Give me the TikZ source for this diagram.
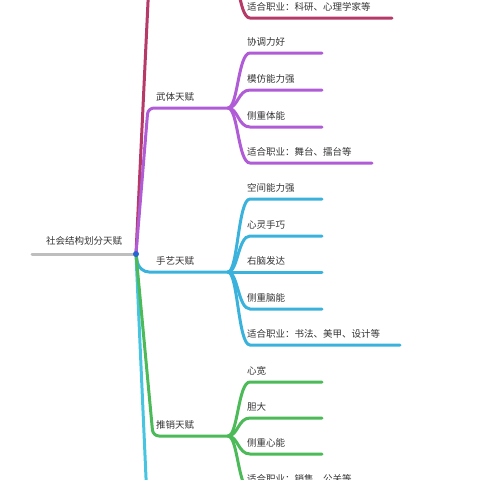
\documentclass[tikz,border=0pt]{standalone}
\usepackage{fontspec}
\setmainfont{Noto Sans CJK SC}
\definecolor{crim}{RGB}{181,58,104}
\definecolor{purp}{RGB}{176,92,214}
\definecolor{sky}{RGB}{58,178,220}
\definecolor{skyb}{RGB}{70,196,224}
\definecolor{leaf}{RGB}{76,186,88}
\definecolor{rootgray}{RGB}{190,190,190}
\definecolor{rootblue}{RGB}{40,100,210}
\definecolor{txtgray}{RGB}{51,51,51}
\begin{document}
\begin{tikzpicture}[x=1pt,y=-1pt,
  lbl/.style={anchor=base west,inner sep=0pt,font=\fontsize{9.5}{11}\selectfont,text=txtgray},
  br/.style={line width=3pt,line cap=round}]
\useasboundingbox (0,0) rectangle (480,480);
\clip (0,0) rectangle (480,480);
% root: gray stem, label above, blue dot at x=136
\coordinate (rootL) at (32,254); \coordinate (root) at (136,254);
\draw[br,rootgray] (rootL) -- (root);
\node[lbl,anchor=base] (rootlbl) at (84,244.5) {社会结构划分天赋};
% branches leaving the root (two run off the page)
\coordinate (zlend) at (150,-40); \coordinate (nextend) at (147,500);
\draw[br,skyb] (root) -- (nextend);
\draw[br,crim] (root) -- (zlend);
% crimson group, hub off the page, last leaf only
\coordinate (zlhub) at (228,-38);
\coordinate (zls4) at (250,18); \coordinate (zle4) at (392,18);
\draw[br,crim] (zlhub) .. controls +(10,0) and +(-12,0) .. (zls4) -- (zle4);
\node[lbl] (zl4) at (247,10.5) {适合职业：科研、心理学家等};
% 武体天赋
\coordinate (wtc) at (148,108); \coordinate (wthub) at (228,108);
\draw[br,purp,rounded corners=6pt] (root) -- (wtc) -- (wthub);
\node[lbl] (wt) at (156,100.5) {武体天赋};
\foreach \i/\y/\t/\e in {1/53/协调力好/322,2/90/模仿能力强/322,3/127/侧重体能/322,4/163/适合职业：舞台、擂台等/372} {
  \coordinate (wts\i) at (250,\y); \coordinate (wte\i) at (\e,\y);
  \draw[br,purp] (wthub) .. controls +(10,0) and +(-12,0) .. (wts\i) -- (wte\i);
  \node[lbl] (wt\i) at (247,\y-7.5) {\t};
}
% 手艺天赋
\coordinate (syc) at (139,272); \coordinate (syhub) at (228,272);
\draw[br,sky,rounded corners=10pt] (root) -- (syc) -- (syhub);
\node[lbl] (sy) at (156,264.5) {手艺天赋};
\foreach \i/\y/\t/\e in {1/199/空间能力强/322,2/236/心灵手巧/322,3/272/右脑发达/322,4/309/侧重脑能/322,5/345/适合职业：书法、美甲、设计等/400} {
  \coordinate (sys\i) at (250,\y); \coordinate (sye\i) at (\e,\y);
  \draw[br,sky] (syhub) .. controls +(10,0) and +(-12,0) .. (sys\i) -- (sye\i);
  \node[lbl] (sy\i) at (247,\y-7.5) {\t};
}
% 推销天赋
\coordinate (txc) at (153,436); \coordinate (txhub) at (228,436);
\draw[br,leaf,rounded corners=6pt] (root) -- (txc) -- (txhub);
\node[lbl] (tx) at (156,428.5) {推销天赋};
\foreach \i/\y/\t/\e in {1/382/心宽/322,2/418/胆大/322,3/454/侧重心能/322,4/490/适合职业：销售、公关等/360} {
  \coordinate (txs\i) at (250,\y); \coordinate (txe\i) at (\e,\y);
  \draw[br,leaf] (txhub) .. controls +(10,0) and +(-12,0) .. (txs\i) -- (txe\i);
  \node[lbl] (tx\i) at (247,\y-7.5) {\t};
}
\fill[rootblue] (root) circle (3pt);
\end{tikzpicture}
\end{document}
